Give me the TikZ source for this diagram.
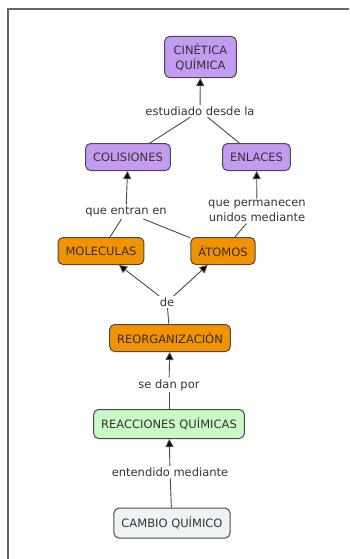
\documentclass[tikz,border=0pt]{standalone}
\usepackage{fontspec}
\setmainfont{DejaVu Sans}
\usetikzlibrary{arrows.meta}
\definecolor{lila}{HTML}{C39BF0}
\definecolor{naranja}{HTML}{F29200}
\definecolor{verde}{HTML}{C8FAC8}
\definecolor{gris}{HTML}{EEF3F5}
\definecolor{borde}{HTML}{4A4A4A}
\definecolor{texto}{HTML}{333333}
\begin{document}
\begin{tikzpicture}[x=1pt, y=-1pt,
    concepto/.style={draw=borde, line width=1pt, rounded corners=5pt, text=texto,
      font=\fontsize{11.5}{15}\selectfont, minimum height=27pt, inner xsep=7.5pt, align=center},
    enlace/.style={text=texto, font=\fontsize{11.5}{15}\selectfont, inner sep=1.5pt, align=center},
    flecha/.style={draw=borde, line width=0.9pt, -{Triangle[length=8pt,width=8pt,fill=black]}},
    linea/.style={draw=borde, line width=0.9pt}]
    \useasboundingbox (0,0) rectangle (349,559);
    \draw [line width=1.2pt, color=black!60] (8,559) -- (8,9) -- (349,9);
    \node [concepto, fill=lila, inner ysep=7pt, inner xsep=9pt] (cin) at (200.5,57) {CINÉTICA\\QUÍMICA};
    \node [enlace] (est) at (200,111) {estudiado desde la};
    \node [concepto, fill=lila] (col) at (128,157) {COLISIONES};
    \node [concepto, fill=lila] (enl) at (256.5,157) {ENLACES};
    \node [enlace] (entran) at (126,212) {que entran en};
    \node [enlace] (perm) at (257,211) {que permanecen\\unidos mediante};
    \node [concepto, fill=naranja] (mol) at (101,251) {MOLECULAS};
    \node [concepto, fill=naranja] (ato) at (223,251) {ÁTOMOS};
    \node [enlace] (de) at (167,302) {de};
    \node [concepto, fill=naranja] (reo) at (170,338) {REORGANIZACIÓN};
    \node [enlace] (dan) at (169,385) {se dan por};
    \node [concepto, fill=verde, minimum height=29pt] (reac) at (169,424) {REACCIONES QUÍMICAS};
    \node [enlace] (ent) at (170,472) {entendido mediante};
    \node [concepto, fill=gris, minimum height=30pt] (cam) at (172,523) {CAMBIO QUÍMICO};
    \draw [flecha] (est) -- (cin);
    \draw [linea] (col) -- (est);
    \draw [linea] (enl) -- (est);
    \draw [flecha] (entran) -- (col);
    \draw [flecha] (perm) -- (enl);
    \draw [linea] (mol) -- (entran);
    \draw [linea] (ato) -- (entran);
    \draw [linea] (ato) -- (perm);
    \draw [flecha] (de) -- (mol);
    \draw [flecha] (de) -- (ato);
    \draw [linea] (reo) -- (de);
    \draw [flecha] (dan) -- (reo);
    \draw [linea] (reac) -- (dan);
    \draw [flecha] (ent) -- (reac);
    \draw [linea] (cam) -- (ent);
  \end{tikzpicture}
\end{document}
